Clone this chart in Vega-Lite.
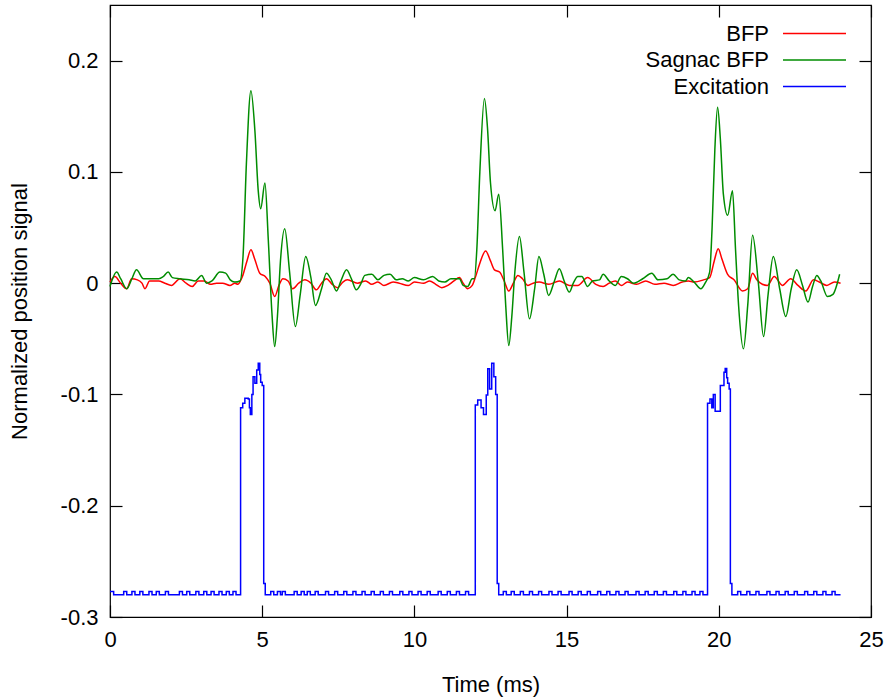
{
"$schema": "https://vega.github.io/schema/vega-lite/v6.json",
"width": 761, "height": 612,
"autosize": {"type": "none"},
"padding": {"left": 110, "top": 5, "right": 14, "bottom": 81},
"background": "white",
"config": {
  "font": "Liberation Sans",
  "view": {"stroke": "#000", "strokeWidth": 1.2},
  "axis": {"grid": false, "domain": false, "ticks": true, "tickSize": -12, "tickColor": "#000", "tickWidth": 1.2, "labelFontSize": 22, "labelColor": "#000", "titleFontSize": 22, "titleFontWeight": "normal", "titleColor": "#000", "labelPadding": 24, "labelFlush": false, "labelOverlap": false},
  "legend": {"orient": "none", "legendX": 693, "legendY": 17, "title": null, "symbolType": "M-3,0H3", "symbolSize": 441, "symbolStrokeWidth": 1.5, "labelAlign": "right", "labelOffset": -57, "labelFontSize": 22, "labelColor": "#000", "labelLimit": 400, "rowPadding": 3.5, "padding": 0}
},
"datasets": {
"all": [
{"t":0,"s":"BFP","v":0.001},{"t":0.16,"s":"BFP","v":0.006},{"t":0.35,"s":"BFP","v":0.0},{"t":0.55,"s":"BFP","v":-0.005},{"t":0.71,"s":"BFP","v":0.004},{"t":0.9,"s":"BFP","v":0.003},{"t":1.05,"s":"BFP","v":0.0},{"t":1.15,"s":"BFP","v":-0.005},{"t":1.3,"s":"BFP","v":0.002},{"t":1.6,"s":"BFP","v":0.002},{"t":1.8,"s":"BFP","v":0.0},{"t":2.02,"s":"BFP","v":-0.002},{"t":2.3,"s":"BFP","v":0.004},{"t":2.5,"s":"BFP","v":0.0},{"t":2.7,"s":"BFP","v":-0.003},{"t":2.9,"s":"BFP","v":0.002},{"t":3.1,"s":"BFP","v":0.002},{"t":3.3,"s":"BFP","v":-0.001},{"t":3.5,"s":"BFP","v":0.0},{"t":3.7,"s":"BFP","v":0.0},{"t":3.94,"s":"BFP","v":-0.002},{"t":4.1,"s":"BFP","v":0.0},{"t":4.2,"s":"BFP","v":-0.001},{"t":4.35,"s":"BFP","v":0.006},{"t":4.5,"s":"BFP","v":0.02},{"t":4.63,"s":"BFP","v":0.03},{"t":4.75,"s":"BFP","v":0.022},{"t":4.92,"s":"BFP","v":0.009},{"t":5.1,"s":"BFP","v":0.006},{"t":5.25,"s":"BFP","v":0.0},{"t":5.41,"s":"BFP","v":-0.012},{"t":5.55,"s":"BFP","v":-0.002},{"t":5.68,"s":"BFP","v":0.004},{"t":5.85,"s":"BFP","v":0.002},{"t":6.0,"s":"BFP","v":-0.005},{"t":6.2,"s":"BFP","v":0.0},{"t":6.4,"s":"BFP","v":0.003},{"t":6.6,"s":"BFP","v":0.0},{"t":6.78,"s":"BFP","v":-0.006},{"t":6.95,"s":"BFP","v":0.0},{"t":7.11,"s":"BFP","v":0.004},{"t":7.3,"s":"BFP","v":-0.001},{"t":7.48,"s":"BFP","v":-0.004},{"t":7.65,"s":"BFP","v":0.001},{"t":7.8,"s":"BFP","v":0.003},{"t":8.13,"s":"BFP","v":0.0},{"t":8.4,"s":"BFP","v":0.002},{"t":8.6,"s":"BFP","v":-0.001},{"t":8.8,"s":"BFP","v":0.001},{"t":9.0,"s":"BFP","v":-0.002},{"t":9.3,"s":"BFP","v":0.001},{"t":9.5,"s":"BFP","v":0.0},{"t":9.8,"s":"BFP","v":-0.002},{"t":10.0,"s":"BFP","v":0.001},{"t":10.3,"s":"BFP","v":0.0},{"t":10.5,"s":"BFP","v":0.002},{"t":10.7,"s":"BFP","v":-0.001},{"t":10.9,"s":"BFP","v":-0.004},{"t":11.1,"s":"BFP","v":-0.002},{"t":11.3,"s":"BFP","v":0.002},{"t":11.48,"s":"BFP","v":0.005},{"t":11.6,"s":"BFP","v":0.0},{"t":11.75,"s":"BFP","v":-0.005},{"t":11.9,"s":"BFP","v":-0.002},{"t":12.0,"s":"BFP","v":0.005},{"t":12.15,"s":"BFP","v":0.018},{"t":12.34,"s":"BFP","v":0.029},{"t":12.5,"s":"BFP","v":0.02},{"t":12.63,"s":"BFP","v":0.012},{"t":12.8,"s":"BFP","v":0.01},{"t":12.95,"s":"BFP","v":0.002},{"t":13.1,"s":"BFP","v":-0.007},{"t":13.25,"s":"BFP","v":0.0},{"t":13.4,"s":"BFP","v":0.007},{"t":13.55,"s":"BFP","v":0.004},{"t":13.73,"s":"BFP","v":-0.002},{"t":13.9,"s":"BFP","v":0.0},{"t":14.1,"s":"BFP","v":0.001},{"t":14.42,"s":"BFP","v":-0.001},{"t":14.76,"s":"BFP","v":0.002},{"t":15.09,"s":"BFP","v":-0.002},{"t":15.37,"s":"BFP","v":-0.002},{"t":15.69,"s":"BFP","v":0.005},{"t":15.96,"s":"BFP","v":-0.001},{"t":16.2,"s":"BFP","v":-0.003},{"t":16.4,"s":"BFP","v":0.0},{"t":16.6,"s":"BFP","v":0.002},{"t":16.8,"s":"BFP","v":-0.002},{"t":17.0,"s":"BFP","v":0.001},{"t":17.3,"s":"BFP","v":-0.001},{"t":17.6,"s":"BFP","v":0.002},{"t":17.9,"s":"BFP","v":-0.001},{"t":18.2,"s":"BFP","v":0.0},{"t":18.5,"s":"BFP","v":-0.002},{"t":18.8,"s":"BFP","v":0.001},{"t":19.0,"s":"BFP","v":0.002},{"t":19.19,"s":"BFP","v":0.001},{"t":19.5,"s":"BFP","v":0.003},{"t":19.7,"s":"BFP","v":0.005},{"t":19.85,"s":"BFP","v":0.02},{"t":19.98,"s":"BFP","v":0.031},{"t":20.1,"s":"BFP","v":0.022},{"t":20.29,"s":"BFP","v":0.008},{"t":20.5,"s":"BFP","v":0.003},{"t":20.78,"s":"BFP","v":-0.007},{"t":20.95,"s":"BFP","v":-0.005},{"t":21.11,"s":"BFP","v":0.009},{"t":21.25,"s":"BFP","v":0.003},{"t":21.43,"s":"BFP","v":-0.001},{"t":21.6,"s":"BFP","v":-0.002},{"t":21.82,"s":"BFP","v":0.006},{"t":22.09,"s":"BFP","v":-0.002},{"t":22.36,"s":"BFP","v":0.004},{"t":22.6,"s":"BFP","v":-0.002},{"t":22.86,"s":"BFP","v":-0.007},{"t":23.11,"s":"BFP","v":0.003},{"t":23.3,"s":"BFP","v":0.001},{"t":23.55,"s":"BFP","v":-0.002},{"t":23.8,"s":"BFP","v":0.001},{"t":24.0,"s":"BFP","v":0.0},

{"t":0,"s":"Sagnac BFP","v":-0.003},{"t":0.22,"s":"Sagnac BFP","v":0.01},{"t":0.35,"s":"Sagnac BFP","v":0.004},{"t":0.55,"s":"Sagnac BFP","v":-0.005},{"t":0.72,"s":"Sagnac BFP","v":0.004},{"t":0.87,"s":"Sagnac BFP","v":0.012},{"t":1.1,"s":"Sagnac BFP","v":0.004},{"t":1.4,"s":"Sagnac BFP","v":0.004},{"t":1.6,"s":"Sagnac BFP","v":0.004},{"t":1.75,"s":"Sagnac BFP","v":0.006},{"t":1.91,"s":"Sagnac BFP","v":0.01},{"t":2.05,"s":"Sagnac BFP","v":0.005},{"t":2.3,"s":"Sagnac BFP","v":0.004},{"t":2.6,"s":"Sagnac BFP","v":0.003},{"t":2.8,"s":"Sagnac BFP","v":0.002},{"t":3.01,"s":"Sagnac BFP","v":0.007},{"t":3.17,"s":"Sagnac BFP","v":0.0},{"t":3.35,"s":"Sagnac BFP","v":0.002},{"t":3.61,"s":"Sagnac BFP","v":0.01},{"t":3.8,"s":"Sagnac BFP","v":0.009},{"t":3.95,"s":"Sagnac BFP","v":0.003},{"t":4.1,"s":"Sagnac BFP","v":0.001},{"t":4.27,"s":"Sagnac BFP","v":0.002},{"t":4.37,"s":"Sagnac BFP","v":0.024},{"t":4.48,"s":"Sagnac BFP","v":0.107},{"t":4.63,"s":"Sagnac BFP","v":0.173},{"t":4.76,"s":"Sagnac BFP","v":0.137},{"t":4.87,"s":"Sagnac BFP","v":0.083},{"t":4.95,"s":"Sagnac BFP","v":0.067},{"t":5.09,"s":"Sagnac BFP","v":0.09},{"t":5.2,"s":"Sagnac BFP","v":0.039},{"t":5.32,"s":"Sagnac BFP","v":-0.027},{"t":5.41,"s":"Sagnac BFP","v":-0.057},{"t":5.5,"s":"Sagnac BFP","v":-0.03},{"t":5.6,"s":"Sagnac BFP","v":0.02},{"t":5.74,"s":"Sagnac BFP","v":0.049},{"t":5.9,"s":"Sagnac BFP","v":0.01},{"t":6.09,"s":"Sagnac BFP","v":-0.039},{"t":6.25,"s":"Sagnac BFP","v":-0.01},{"t":6.43,"s":"Sagnac BFP","v":0.024},{"t":6.6,"s":"Sagnac BFP","v":0.005},{"t":6.75,"s":"Sagnac BFP","v":-0.02},{"t":6.95,"s":"Sagnac BFP","v":-0.005},{"t":7.11,"s":"Sagnac BFP","v":0.009},{"t":7.27,"s":"Sagnac BFP","v":0.003},{"t":7.44,"s":"Sagnac BFP","v":-0.007},{"t":7.6,"s":"Sagnac BFP","v":0.003},{"t":7.77,"s":"Sagnac BFP","v":0.012},{"t":7.93,"s":"Sagnac BFP","v":0.004},{"t":8.09,"s":"Sagnac BFP","v":-0.006},{"t":8.25,"s":"Sagnac BFP","v":0.0},{"t":8.37,"s":"Sagnac BFP","v":0.007},{"t":8.6,"s":"Sagnac BFP","v":0.008},{"t":8.8,"s":"Sagnac BFP","v":0.003},{"t":9.0,"s":"Sagnac BFP","v":0.007},{"t":9.2,"s":"Sagnac BFP","v":0.008},{"t":9.4,"s":"Sagnac BFP","v":0.003},{"t":9.6,"s":"Sagnac BFP","v":0.004},{"t":9.8,"s":"Sagnac BFP","v":0.002},{"t":10.0,"s":"Sagnac BFP","v":0.005},{"t":10.3,"s":"Sagnac BFP","v":0.003},{"t":10.6,"s":"Sagnac BFP","v":0.006},{"t":10.8,"s":"Sagnac BFP","v":0.002},{"t":11.0,"s":"Sagnac BFP","v":0.001},{"t":11.2,"s":"Sagnac BFP","v":0.004},{"t":11.48,"s":"Sagnac BFP","v":0.004},{"t":11.6,"s":"Sagnac BFP","v":-0.002},{"t":11.75,"s":"Sagnac BFP","v":-0.003},{"t":11.9,"s":"Sagnac BFP","v":0.004},{"t":11.97,"s":"Sagnac BFP","v":0.004},{"t":12.05,"s":"Sagnac BFP","v":0.03},{"t":12.15,"s":"Sagnac BFP","v":0.1},{"t":12.3,"s":"Sagnac BFP","v":0.166},{"t":12.4,"s":"Sagnac BFP","v":0.14},{"t":12.5,"s":"Sagnac BFP","v":0.09},{"t":12.65,"s":"Sagnac BFP","v":0.065},{"t":12.77,"s":"Sagnac BFP","v":0.08},{"t":12.9,"s":"Sagnac BFP","v":0.03},{"t":13.0,"s":"Sagnac BFP","v":-0.02},{"t":13.1,"s":"Sagnac BFP","v":-0.056},{"t":13.2,"s":"Sagnac BFP","v":-0.03},{"t":13.3,"s":"Sagnac BFP","v":0.01},{"t":13.45,"s":"Sagnac BFP","v":0.042},{"t":13.6,"s":"Sagnac BFP","v":0.01},{"t":13.78,"s":"Sagnac BFP","v":-0.032},{"t":13.95,"s":"Sagnac BFP","v":-0.005},{"t":14.09,"s":"Sagnac BFP","v":0.024},{"t":14.25,"s":"Sagnac BFP","v":0.008},{"t":14.41,"s":"Sagnac BFP","v":-0.011},{"t":14.6,"s":"Sagnac BFP","v":0.002},{"t":14.76,"s":"Sagnac BFP","v":0.013},{"t":14.92,"s":"Sagnac BFP","v":0.002},{"t":15.09,"s":"Sagnac BFP","v":-0.008},{"t":15.22,"s":"Sagnac BFP","v":0.0},{"t":15.37,"s":"Sagnac BFP","v":0.006},{"t":15.5,"s":"Sagnac BFP","v":0.006},{"t":15.69,"s":"Sagnac BFP","v":-0.003},{"t":15.85,"s":"Sagnac BFP","v":0.002},{"t":16.08,"s":"Sagnac BFP","v":0.003},{"t":16.2,"s":"Sagnac BFP","v":0.008},{"t":16.4,"s":"Sagnac BFP","v":0.002},{"t":16.6,"s":"Sagnac BFP","v":-0.002},{"t":16.8,"s":"Sagnac BFP","v":0.006},{"t":17.0,"s":"Sagnac BFP","v":0.004},{"t":17.2,"s":"Sagnac BFP","v":0.0},{"t":17.5,"s":"Sagnac BFP","v":0.004},{"t":17.8,"s":"Sagnac BFP","v":0.009},{"t":18.0,"s":"Sagnac BFP","v":0.003},{"t":18.3,"s":"Sagnac BFP","v":0.004},{"t":18.5,"s":"Sagnac BFP","v":0.008},{"t":18.7,"s":"Sagnac BFP","v":0.003},{"t":18.9,"s":"Sagnac BFP","v":0.002},{"t":19.0,"s":"Sagnac BFP","v":0.005},{"t":19.19,"s":"Sagnac BFP","v":0.001},{"t":19.41,"s":"Sagnac BFP","v":-0.005},{"t":19.55,"s":"Sagnac BFP","v":0.0},{"t":19.7,"s":"Sagnac BFP","v":0.01},{"t":19.78,"s":"Sagnac BFP","v":0.05},{"t":19.87,"s":"Sagnac BFP","v":0.12},{"t":19.96,"s":"Sagnac BFP","v":0.158},{"t":20.05,"s":"Sagnac BFP","v":0.13},{"t":20.15,"s":"Sagnac BFP","v":0.08},{"t":20.29,"s":"Sagnac BFP","v":0.061},{"t":20.45,"s":"Sagnac BFP","v":0.083},{"t":20.55,"s":"Sagnac BFP","v":0.03},{"t":20.65,"s":"Sagnac BFP","v":-0.02},{"t":20.81,"s":"Sagnac BFP","v":-0.059},{"t":20.95,"s":"Sagnac BFP","v":-0.02},{"t":21.11,"s":"Sagnac BFP","v":0.043},{"t":21.3,"s":"Sagnac BFP","v":0.0},{"t":21.47,"s":"Sagnac BFP","v":-0.048},{"t":21.62,"s":"Sagnac BFP","v":-0.01},{"t":21.79,"s":"Sagnac BFP","v":0.024},{"t":22.0,"s":"Sagnac BFP","v":-0.005},{"t":22.2,"s":"Sagnac BFP","v":-0.03},{"t":22.38,"s":"Sagnac BFP","v":-0.005},{"t":22.56,"s":"Sagnac BFP","v":0.012},{"t":22.75,"s":"Sagnac BFP","v":-0.002},{"t":22.93,"s":"Sagnac BFP","v":-0.017},{"t":23.08,"s":"Sagnac BFP","v":-0.003},{"t":23.22,"s":"Sagnac BFP","v":0.007},{"t":23.35,"s":"Sagnac BFP","v":0.002},{"t":23.57,"s":"Sagnac BFP","v":-0.012},{"t":23.75,"s":"Sagnac BFP","v":-0.01},{"t":23.97,"s":"Sagnac BFP","v":0.008},

{"t":0,"s":"Excitation","v":-0.277},{"t":0.12,"s":"Excitation","v":-0.28},{"t":0.45,"s":"Excitation","v":-0.277},{"t":0.55,"s":"Excitation","v":-0.28},{"t":0.72,"s":"Excitation","v":-0.277},{"t":0.82,"s":"Excitation","v":-0.28},{"t":0.98,"s":"Excitation","v":-0.277},{"t":1.08,"s":"Excitation","v":-0.28},{"t":1.28,"s":"Excitation","v":-0.277},{"t":1.38,"s":"Excitation","v":-0.28},{"t":1.52,"s":"Excitation","v":-0.277},{"t":1.62,"s":"Excitation","v":-0.28},{"t":1.82,"s":"Excitation","v":-0.277},{"t":1.92,"s":"Excitation","v":-0.28},{"t":2.28,"s":"Excitation","v":-0.277},{"t":2.38,"s":"Excitation","v":-0.28},{"t":2.52,"s":"Excitation","v":-0.277},{"t":2.62,"s":"Excitation","v":-0.28},{"t":2.82,"s":"Excitation","v":-0.277},{"t":2.92,"s":"Excitation","v":-0.28},{"t":3.08,"s":"Excitation","v":-0.277},{"t":3.18,"s":"Excitation","v":-0.28},{"t":3.32,"s":"Excitation","v":-0.277},{"t":3.42,"s":"Excitation","v":-0.28},{"t":3.58,"s":"Excitation","v":-0.277},{"t":3.68,"s":"Excitation","v":-0.28},{"t":3.82,"s":"Excitation","v":-0.277},{"t":3.92,"s":"Excitation","v":-0.28},{"t":4.04,"s":"Excitation","v":-0.277},{"t":4.14,"s":"Excitation","v":-0.28},
{"t":4.29,"s":"Excitation","v":-0.112},{"t":4.36,"s":"Excitation","v":-0.108},{"t":4.43,"s":"Excitation","v":-0.1035},{"t":4.54,"s":"Excitation","v":-0.104},{"t":4.58,"s":"Excitation","v":-0.112},{"t":4.61,"s":"Excitation","v":-0.118},{"t":4.66,"s":"Excitation","v":-0.1},{"t":4.7,"s":"Excitation","v":-0.084},{"t":4.76,"s":"Excitation","v":-0.09},{"t":4.82,"s":"Excitation","v":-0.078},{"t":4.87,"s":"Excitation","v":-0.072},{"t":4.92,"s":"Excitation","v":-0.082},{"t":4.95,"s":"Excitation","v":-0.089},{"t":5.0,"s":"Excitation","v":-0.092},{"t":5.05,"s":"Excitation","v":-0.27},{"t":5.1,"s":"Excitation","v":-0.28},
{"t":5.28,"s":"Excitation","v":-0.277},{"t":5.38,"s":"Excitation","v":-0.28},{"t":5.5,"s":"Excitation","v":-0.277},{"t":5.6,"s":"Excitation","v":-0.28},{"t":5.66,"s":"Excitation","v":-0.277},{"t":5.76,"s":"Excitation","v":-0.28},{"t":6.05,"s":"Excitation","v":-0.277},{"t":6.15,"s":"Excitation","v":-0.28},{"t":6.28,"s":"Excitation","v":-0.277},{"t":6.38,"s":"Excitation","v":-0.28},{"t":6.48,"s":"Excitation","v":-0.277},{"t":6.58,"s":"Excitation","v":-0.28},{"t":6.74,"s":"Excitation","v":-0.277},{"t":6.84,"s":"Excitation","v":-0.28},{"t":7.08,"s":"Excitation","v":-0.277},{"t":7.18,"s":"Excitation","v":-0.28},{"t":7.38,"s":"Excitation","v":-0.277},{"t":7.48,"s":"Excitation","v":-0.28},{"t":7.68,"s":"Excitation","v":-0.277},{"t":7.78,"s":"Excitation","v":-0.28},{"t":7.98,"s":"Excitation","v":-0.277},{"t":8.08,"s":"Excitation","v":-0.28},{"t":8.28,"s":"Excitation","v":-0.277},{"t":8.38,"s":"Excitation","v":-0.28},{"t":8.58,"s":"Excitation","v":-0.277},{"t":8.68,"s":"Excitation","v":-0.28},{"t":8.88,"s":"Excitation","v":-0.277},{"t":8.98,"s":"Excitation","v":-0.28},{"t":9.18,"s":"Excitation","v":-0.277},{"t":9.28,"s":"Excitation","v":-0.28},{"t":9.52,"s":"Excitation","v":-0.277},{"t":9.62,"s":"Excitation","v":-0.28},{"t":9.82,"s":"Excitation","v":-0.277},{"t":9.92,"s":"Excitation","v":-0.28},{"t":10.12,"s":"Excitation","v":-0.277},{"t":10.22,"s":"Excitation","v":-0.28},{"t":10.42,"s":"Excitation","v":-0.277},{"t":10.52,"s":"Excitation","v":-0.28},{"t":10.78,"s":"Excitation","v":-0.277},{"t":10.88,"s":"Excitation","v":-0.28},{"t":11.08,"s":"Excitation","v":-0.277},{"t":11.18,"s":"Excitation","v":-0.28},{"t":11.38,"s":"Excitation","v":-0.277},{"t":11.48,"s":"Excitation","v":-0.28},{"t":11.68,"s":"Excitation","v":-0.277},{"t":11.78,"s":"Excitation","v":-0.28},
{"t":12.0,"s":"Excitation","v":-0.1095},{"t":12.08,"s":"Excitation","v":-0.105},{"t":12.19,"s":"Excitation","v":-0.112},{"t":12.27,"s":"Excitation","v":-0.118},{"t":12.36,"s":"Excitation","v":-0.1005},{"t":12.41,"s":"Excitation","v":-0.077},{"t":12.47,"s":"Excitation","v":-0.095},{"t":12.54,"s":"Excitation","v":-0.072},{"t":12.61,"s":"Excitation","v":-0.084},{"t":12.67,"s":"Excitation","v":-0.1},{"t":12.72,"s":"Excitation","v":-0.27},{"t":12.77,"s":"Excitation","v":-0.28},
{"t":12.92,"s":"Excitation","v":-0.277},{"t":13.02,"s":"Excitation","v":-0.28},{"t":13.18,"s":"Excitation","v":-0.277},{"t":13.28,"s":"Excitation","v":-0.28},{"t":13.48,"s":"Excitation","v":-0.277},{"t":13.58,"s":"Excitation","v":-0.28},{"t":13.78,"s":"Excitation","v":-0.277},{"t":13.88,"s":"Excitation","v":-0.28},{"t":14.08,"s":"Excitation","v":-0.277},{"t":14.18,"s":"Excitation","v":-0.28},{"t":14.42,"s":"Excitation","v":-0.277},{"t":14.52,"s":"Excitation","v":-0.28},{"t":14.72,"s":"Excitation","v":-0.277},{"t":14.82,"s":"Excitation","v":-0.28},{"t":15.08,"s":"Excitation","v":-0.277},{"t":15.18,"s":"Excitation","v":-0.28},{"t":15.38,"s":"Excitation","v":-0.277},{"t":15.48,"s":"Excitation","v":-0.28},{"t":15.68,"s":"Excitation","v":-0.277},{"t":15.78,"s":"Excitation","v":-0.28},{"t":16.02,"s":"Excitation","v":-0.277},{"t":16.12,"s":"Excitation","v":-0.28},{"t":16.32,"s":"Excitation","v":-0.277},{"t":16.42,"s":"Excitation","v":-0.28},{"t":16.62,"s":"Excitation","v":-0.277},{"t":16.72,"s":"Excitation","v":-0.28},{"t":16.92,"s":"Excitation","v":-0.277},{"t":17.02,"s":"Excitation","v":-0.28},{"t":17.28,"s":"Excitation","v":-0.277},{"t":17.38,"s":"Excitation","v":-0.28},{"t":17.58,"s":"Excitation","v":-0.277},{"t":17.68,"s":"Excitation","v":-0.28},{"t":17.88,"s":"Excitation","v":-0.277},{"t":17.98,"s":"Excitation","v":-0.28},{"t":18.18,"s":"Excitation","v":-0.277},{"t":18.28,"s":"Excitation","v":-0.28},{"t":18.52,"s":"Excitation","v":-0.277},{"t":18.62,"s":"Excitation","v":-0.28},{"t":18.82,"s":"Excitation","v":-0.277},{"t":18.92,"s":"Excitation","v":-0.28},{"t":19.12,"s":"Excitation","v":-0.277},{"t":19.22,"s":"Excitation","v":-0.28},{"t":19.38,"s":"Excitation","v":-0.277},{"t":19.48,"s":"Excitation","v":-0.28},
{"t":19.63,"s":"Excitation","v":-0.108},{"t":19.71,"s":"Excitation","v":-0.104},{"t":19.77,"s":"Excitation","v":-0.112},{"t":19.82,"s":"Excitation","v":-0.1},{"t":19.88,"s":"Excitation","v":-0.115},{"t":20.05,"s":"Excitation","v":-0.092},{"t":20.17,"s":"Excitation","v":-0.08},{"t":20.21,"s":"Excitation","v":-0.0766},{"t":20.26,"s":"Excitation","v":-0.085},{"t":20.29,"s":"Excitation","v":-0.09},{"t":20.34,"s":"Excitation","v":-0.095},{"t":20.38,"s":"Excitation","v":-0.27},{"t":20.43,"s":"Excitation","v":-0.28},
{"t":20.62,"s":"Excitation","v":-0.277},{"t":20.72,"s":"Excitation","v":-0.28},{"t":20.92,"s":"Excitation","v":-0.277},{"t":21.02,"s":"Excitation","v":-0.28},{"t":21.22,"s":"Excitation","v":-0.277},{"t":21.32,"s":"Excitation","v":-0.28},{"t":21.58,"s":"Excitation","v":-0.277},{"t":21.68,"s":"Excitation","v":-0.28},{"t":21.88,"s":"Excitation","v":-0.277},{"t":21.98,"s":"Excitation","v":-0.28},{"t":22.18,"s":"Excitation","v":-0.277},{"t":22.28,"s":"Excitation","v":-0.28},{"t":22.48,"s":"Excitation","v":-0.277},{"t":22.58,"s":"Excitation","v":-0.28},{"t":22.82,"s":"Excitation","v":-0.277},{"t":22.92,"s":"Excitation","v":-0.28},{"t":23.12,"s":"Excitation","v":-0.277},{"t":23.22,"s":"Excitation","v":-0.28},{"t":23.42,"s":"Excitation","v":-0.277},{"t":23.52,"s":"Excitation","v":-0.28},{"t":23.72,"s":"Excitation","v":-0.277},{"t":23.82,"s":"Excitation","v":-0.28},{"t":24.0,"s":"Excitation","v":-0.28}
]
},
"data": {"name": "all"},
"layer": [
  {
    "layer": [
      {
        "transform": [{"filter": "datum.s === 'BFP'"}],
        "mark": {"type": "line", "strokeWidth": 1.5, "interpolate": "monotone"},
        "encoding": {
          "x": {"field": "t", "type": "quantitative", "scale": {"domain": [0, 25], "nice": false, "zero": false}, "axis": {"values": [0, 5, 10, 15, 20, 25], "title": "Time (ms)", "titlePadding": 24}},
          "y": {"field": "v", "type": "quantitative", "scale": {"domain": [-0.3, 0.25], "nice": false, "zero": false}, "axis": {"values": [-0.3, -0.2, -0.1, 0, 0.1, 0.2], "labelExpr": "'' + datum.value", "title": "Normalized position signal", "titlePadding": 29}},
          "color": {"field": "s", "type": "nominal", "scale": {"domain": ["BFP", "Sagnac BFP", "Excitation"], "range": ["#ff0000", "#008c00", "#0000ff"]}},
          "order": {"field": "t", "type": "quantitative"}
        }
      },
      {
        "transform": [{"filter": "datum.s === 'Sagnac BFP'"}],
        "mark": {"type": "line", "strokeWidth": 1.5, "interpolate": "monotone"},
        "encoding": {
          "x": {"field": "t", "type": "quantitative"},
          "y": {"field": "v", "type": "quantitative"},
          "color": {"field": "s", "type": "nominal"},
          "order": {"field": "t", "type": "quantitative"}
        }
      },
      {
        "transform": [{"filter": "datum.s === 'Excitation'"}],
        "mark": {"type": "line", "strokeWidth": 1.5, "interpolate": "step-after"},
        "encoding": {
          "x": {"field": "t", "type": "quantitative"},
          "y": {"field": "v", "type": "quantitative"},
          "color": {"field": "s", "type": "nominal"},
          "order": {"field": "t", "type": "quantitative"}
        }
      }
    ]
  },
  {
    "mark": {"type": "point", "opacity": 0},
    "encoding": {
      "x": {"field": "t", "type": "quantitative", "axis": {"orient": "top", "values": [0, 5, 10, 15, 20, 25], "labels": false, "title": null}},
      "y": {"field": "v", "type": "quantitative", "axis": {"orient": "right", "values": [-0.3, -0.2, -0.1, 0, 0.1, 0.2], "labels": false, "title": null}}
    }
  }
],
"resolve": {"axis": {"x": "independent", "y": "independent"}}
}
